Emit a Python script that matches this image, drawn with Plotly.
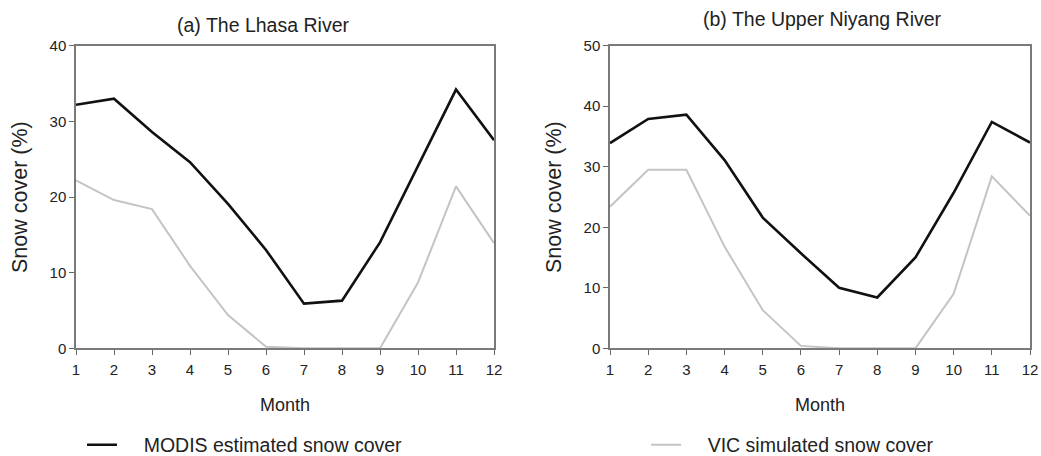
import plotly.graph_objects as go

months = list(range(1, 13))
lhasa_modis = [32.2, 33.0, 28.6, 24.6, 19.1, 13.0, 5.9, 6.3, 14.0, 24.1, 34.2, 27.5]
lhasa_vic = [22.2, 19.6, 18.4, 10.9, 4.4, 0.2, 0.0, 0.0, 0.0, 8.7, 21.4, 13.9]
niyang_modis = [33.9, 37.9, 38.6, 31.1, 21.6, 15.7, 10.0, 8.4, 15.0, 25.7, 37.4, 34.0]
niyang_vic = [23.4, 29.5, 29.5, 16.8, 6.3, 0.4, 0.0, 0.0, 0.0, 9.0, 28.4, 21.9]
series_names = ["MODIS estimated snow cover", "VIC simulated snow cover"]
panel_titles = ["(a) The Lhasa River", "(b) The Upper Niyang River"]

W, H = 1041, 456
FONT = "Liberation Sans, Arial, sans-serif"
BLACK = "#111111"
GRAY = "#c4c4c4"
AX = "#7a7a7a"
PAD = "\u00a0" * 4

fig = go.Figure()
fig.add_trace(go.Scatter(x=months, y=lhasa_vic, mode="lines", line=dict(color=GRAY, width=2),
                         name=series_names[1], showlegend=False, xaxis="x", yaxis="y"))
fig.add_trace(go.Scatter(x=months, y=lhasa_modis, mode="lines", line=dict(color=BLACK, width=2.6),
                         name=PAD + series_names[0], showlegend=True, legend="legend",
                         xaxis="x", yaxis="y"))
fig.add_trace(go.Scatter(x=months, y=niyang_vic, mode="lines", line=dict(color=GRAY, width=2),
                         name=PAD + series_names[1], showlegend=True, legend="legend2",
                         xaxis="x2", yaxis="y2"))
fig.add_trace(go.Scatter(x=months, y=niyang_modis, mode="lines", line=dict(color=BLACK, width=2.6),
                         name=series_names[0], showlegend=False, xaxis="x2", yaxis="y2"))


def px_x(p):
    return p / W


def px_y(p):
    return 1 - p / H


ydom = [px_y(348.3), px_y(45.7)]
common_x = dict(range=[1, 12], tickmode="array", tickvals=months, ticks="outside", ticklen=5,
                tickcolor="#666", showline=True, linecolor=AX, linewidth=1.5, mirror=True,
                showgrid=False, zeroline=False, tickfont=dict(size=15, color="#222"),
                ticklabelstandoff=2, automargin=False)
common_y = dict(ticks="outside", ticklen=5, tickcolor="#666", showline=True, linecolor=AX,
                linewidth=1.5, mirror=True, showgrid=False, zeroline=False,
                tickfont=dict(size=15, color="#222"), automargin=False)
leg_common = dict(orientation="h", xanchor="left", y=px_y(445), yanchor="middle", yref="paper",
                  xref="paper", itemwidth=30, font=dict(size=19.5, color="#222"),
                  bgcolor="rgba(0,0,0,0)")


def label(text, x, y, size, angle=0):
    return dict(text=text, x=px_x(x), y=px_y(y), xref="paper", yref="paper",
                xanchor="center", yanchor="middle", showarrow=False, textangle=angle,
                font=dict(size=size, color="#222"))


fig.update_layout(
    width=W, height=H,
    margin=dict(l=0, r=0, t=0, b=0, pad=0, autoexpand=False),
    paper_bgcolor="white", plot_bgcolor="white",
    font=dict(family=FONT, color="#222"),
    xaxis=dict(domain=[px_x(76), px_x(494)], anchor="y", **common_x),
    yaxis=dict(domain=ydom, anchor="x", range=[0, 40], tickvals=[0, 10, 20, 30, 40], **common_y),
    xaxis2=dict(domain=[px_x(610), px_x(1030)], anchor="y2", **common_x),
    yaxis2=dict(domain=ydom, anchor="x2", range=[0, 50], tickvals=[0, 10, 20, 30, 40, 50], **common_y),
    showlegend=True,
    legend=dict(x=px_x(82), **leg_common),
    legend2=dict(x=px_x(646), **leg_common),
    annotations=[
        label(panel_titles[0], 263, 25, 19.5),
        label(panel_titles[1], 822, 19, 19.5),
        label("Month", 285, 405, 18),
        label("Month", 820, 405, 18),
        label("Snow cover (%)", 20, 197, 21.5, -90),
        label("Snow cover (%)", 554, 197, 21.5, -90),
    ],
)

fig.write_html("out.html")
